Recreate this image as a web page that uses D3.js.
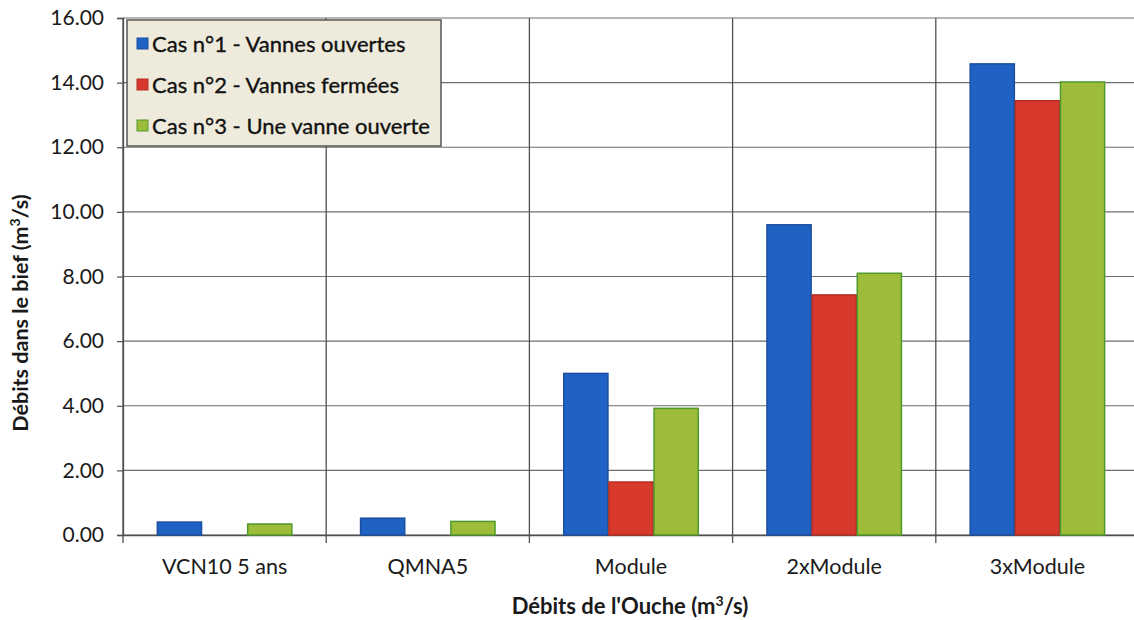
<!DOCTYPE html>
<html>
<head>
<meta charset="utf-8">
<script src="https://cdn.jsdelivr.net/npm/d3@7"></script>
<style>
  html, body { margin: 0; padding: 0; background: #fff; }
  svg { display: block; font-family: Lato, "Open Sans", sans-serif; }
</style>
</head>
<body>
<svg id="chart" width="1134" height="620"></svg>
<script>
// Flow categories of the Ouche and the three gate scenarios
const categories = ["VCN10 5 ans", "QMNA5", "Module", "2xModule", "3xModule"];
const seriesNames = [
  "Cas n°1 - Vannes ouvertes",
  "Cas n°2 - Vannes fermées",
  "Cas n°3 - Une vanne ouverte"
];
const cas1 = [0.40, 0.52, 5.00, 9.60, 14.58];
const cas2 = [0.00, 0.00, 1.64, 7.43, 13.44];
const cas3 = [0.34, 0.42, 3.92, 8.10, 14.02];
const yTicks = [0, 2, 4, 6, 8, 10, 12, 14, 16];

const fills = ["#1f62c4", "#d8392d", "#9dbd3a"];
const strokes = ["#1a4f9f", "#b52e24", "#4f9a2c"];

const seriesValues = [cas1, cas2, cas3];

const svg = d3.select("#chart");
const margin = { left: 123, top: 18, right: -5, bottom: 85 };
const W = 1134, H = 620;
const plotW = W - margin.left - margin.right;
const plotH = H - margin.top - margin.bottom;

const g = svg.append("g").attr("transform", `translate(${margin.left},${margin.top})`);

const x0 = d3.scaleBand().domain(categories).range([0, plotW]).padding(0);
const x1 = d3.scaleBand().domain(d3.range(3)).range([0, x0.bandwidth()])
  .paddingInner(0).paddingOuter(0.75);
const y = d3.scaleLinear().domain([0, 16]).range([plotH, 0]);

// horizontal gridlines
g.append("g").selectAll("line").data(yTicks).join("line")
  .attr("x1", 0).attr("x2", plotW)
  .attr("y1", d => y(d)).attr("y2", d => y(d))
  .attr("stroke", "#6e6e6e").attr("stroke-width", 1.2);

// vertical category separators
const bounds = categories.map(c => x0(c)).concat([plotW]);
g.append("g").selectAll("line").data(bounds).join("line")
  .attr("x1", d => d).attr("x2", d => d)
  .attr("y1", 0).attr("y2", plotH + 8)
  .attr("stroke", "#505050").attr("stroke-width", 1.3);

// y axis
const yAxis = d3.axisLeft(y).tickValues(yTicks).tickFormat(d3.format(".2f")).tickSize(6).tickPadding(13);
const ya = g.append("g").call(yAxis);
ya.select(".domain").attr("stroke", "#505050").attr("stroke-width", 1.3);
ya.selectAll(".tick line").attr("stroke", "#505050").attr("stroke-width", 1.2);
ya.selectAll(".tick text").attr("font-size", 21).attr("fill", "#1a1a1a")
  .attr("font-family", "Lato, sans-serif");

// x axis (labels only; separators drawn above)
const xAxis = d3.axisBottom(x0).tickSize(0).tickPadding(24);
const xa = g.append("g").attr("transform", `translate(0,${plotH})`).call(xAxis);
xa.select(".domain").attr("stroke", "#505050").attr("stroke-width", 1.3);
xa.selectAll(".tick text").attr("font-size", 21.5).attr("fill", "#1a1a1a")
  .attr("font-family", "Lato, sans-serif");

// bars
const groups = g.append("g").selectAll("g").data(categories).join("g")
  .attr("transform", d => `translate(${x0(d)},0)`);
groups.selectAll("rect")
  .data((c, ci) => seriesValues.map((vals, si) => ({ si, v: vals[ci] })).filter(d => d.v > 0))
  .join("rect")
  .attr("x", d => x1(d.si) + 0.5)
  .attr("width", x1.bandwidth() - 1)
  .attr("y", d => y(d.v))
  .attr("height", d => y(0) - y(d.v))
  .attr("fill", d => fills[d.si])
  .attr("stroke", d => strokes[d.si])
  .attr("stroke-width", 1.5);

// axis titles
svg.append("text")
  .attr("transform", `translate(28,313) rotate(-90)`)
  .attr("text-anchor", "middle")
  .attr("font-size", 21.5).attr("font-weight", "bold").attr("fill", "#1a1a1a")
  .html("Débits dans le bief (m<tspan baseline-shift='super' font-size='14'>3</tspan>/s)");

svg.append("text")
  .attr("x", 630).attr("y", 614)
  .attr("text-anchor", "middle")
  .attr("font-size", 22).attr("font-weight", "bold").attr("fill", "#1a1a1a")
  .html("Débits de l'Ouche (m<tspan baseline-shift='super' font-size='14'>3</tspan>/s)");

// legend
const lg = svg.append("g").attr("transform", "translate(127,20)");
lg.append("rect").attr("width", 314).attr("height", 126)
  .attr("fill", "#eeebdc").attr("stroke", "#555").attr("stroke-width", 1.5);
seriesNames.forEach((name, i) => {
  const row = lg.append("g").attr("transform", `translate(10,${24 + i * 41})`);
  row.append("rect").attr("x", 0).attr("y", -6).attr("width", 11).attr("height", 11)
    .attr("fill", fills[i]).attr("stroke", strokes[i]).attr("stroke-width", 1);
  row.append("text").attr("x", 15).attr("y", 0).attr("dy", "0.36em")
    .attr("font-size", 22).attr("fill", "#111")
    .attr("stroke", "#111").attr("stroke-width", 0.35)
    .text(name);
});
</script>
</body>
</html>
